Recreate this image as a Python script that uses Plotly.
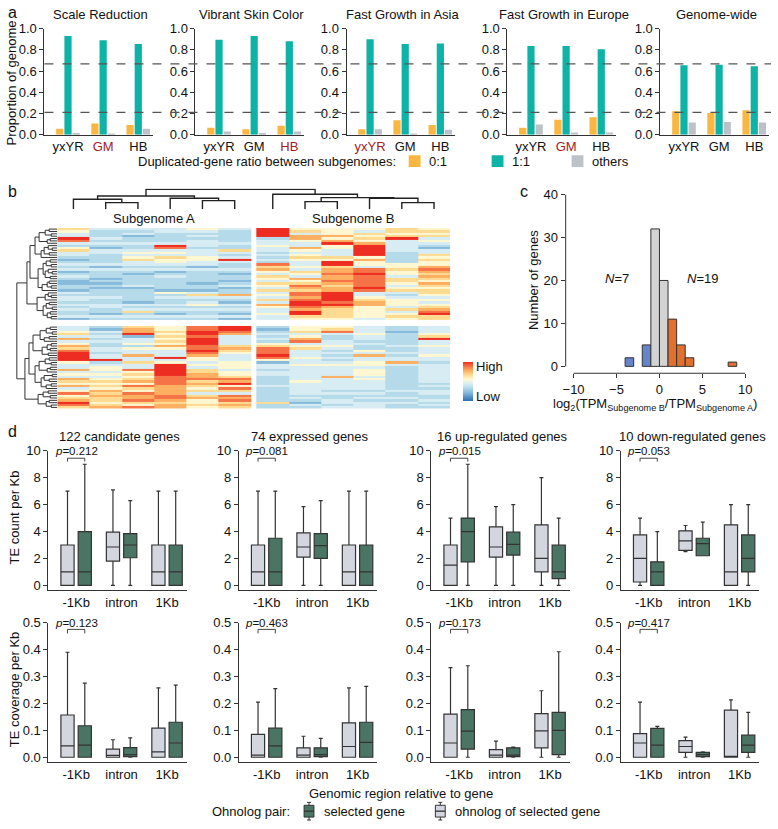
import plotly.graph_objects as go

W, H = 778, 829


def fx(p):
    return p / W


def fy(p):
    return 1 - p / H


FONT = "Arial, Liberation Sans, sans-serif"
INK = "#333333"
RED = "#A31A1F"
C01, C11, COTH = "#F9B640", "#0DB3A6", "#BDC2C9"

# ---------------- panel a: duplicated-gene ratios ----------------
a_titles = ["Scale Reduction", "Vibrant Skin Color", "Fast Growth in Asia",
            "Fast Growth in Europe", "Genome-wide"]
a_groups = ["yxYR", "GM", "HB"]
a_red = ["GM", "HB", "yxYR", "GM", None]
ratio_01 = [[0.055, 0.105, 0.09], [0.065, 0.05, 0.085], [0.05, 0.135, 0.09],
            [0.065, 0.14, 0.165], [0.22, 0.205, 0.23]]
ratio_11 = [[0.93, 0.89, 0.855], [0.895, 0.93, 0.88], [0.90, 0.855, 0.86],
            [0.835, 0.835, 0.805], [0.655, 0.66, 0.645]]
ratio_oth = [[0.015, 0.003, 0.055], [0.03, 0.015, 0.03], [0.05, 0.01, 0.045],
             [0.095, 0.02, 0.02], [0.115, 0.12, 0.115]]
a_refs = [0.667, 0.21]

# ---------------- panel b: expression heatmap (scaled 0 low .. 9 high) ----------------
# columns: 6 samples of subgenome A then 6 of subgenome B
heat_top = [
    [6, 4, 4, 4, 5, 4, 9, 5, 5, 5, 6, 5],
    [5, 3, 3, 4, 4, 3, 9, 6, 5, 4, 6, 6],
    [4, 3, 4, 3, 3, 3, 9, 4, 5, 6, 5, 5],
    [4, 3, 2, 3, 4, 3, 9, 7, 7, 5, 6, 6],
    [9, 4, 3, 3, 3, 3, 3, 7, 5, 6, 9, 4],
    [8, 3, 3, 3, 4, 3, 4, 5, 7, 5, 4, 5],
    [4, 4, 4, 4, 4, 4, 4, 4, 9, 7, 4, 4],
    [3, 3, 3, 9, 4, 3, 5, 4, 5, 9, 4, 3],
    [5, 2, 3, 8, 3, 3, 4, 7, 5, 9, 4, 2],
    [6, 4, 4, 4, 4, 6, 4, 5, 4, 9, 4, 4],
    [4, 4, 5, 5, 4, 4, 3, 4, 4, 9, 3, 4],
    [4, 3, 4, 4, 4, 3, 4, 5, 4, 9, 3, 6],
    [3, 3, 5, 6, 5, 4, 3, 6, 6, 5, 3, 5],
    [2, 3, 6, 5, 5, 9, 4, 5, 5, 7, 3, 6],
    [3, 3, 4, 5, 4, 4, 3, 4, 9, 5, 3, 5],
    [4, 4, 4, 4, 4, 3, 8, 4, 9, 5, 5, 5],
    [3, 2, 3, 3, 2, 3, 6, 5, 6, 4, 5, 7],
    [4, 4, 4, 4, 4, 4, 7, 4, 7, 8, 6, 8],
    [2, 3, 3, 2, 3, 3, 5, 6, 7, 8, 5, 7],
    [3, 3, 2, 3, 3, 2, 4, 5, 8, 9, 5, 6],
    [4, 3, 3, 4, 3, 3, 6, 4, 7, 8, 4, 7],
    [3, 2, 3, 3, 3, 3, 5, 7, 7, 8, 6, 6],
    [2, 3, 3, 3, 3, 2, 4, 5, 8, 8, 6, 5],
    [2, 2, 3, 3, 2, 3, 6, 6, 7, 8, 5, 7],
    [3, 3, 4, 3, 3, 4, 5, 8, 6, 8, 4, 6],
    [3, 2, 2, 3, 3, 2, 4, 7, 7, 9, 5, 5],
    [2, 3, 3, 2, 2, 3, 6, 6, 7, 8, 6, 6],
    [4, 3, 3, 5, 4, 3, 4, 8, 9, 4, 4, 6],
    [3, 3, 3, 3, 6, 7, 5, 8, 9, 4, 3, 5],
    [4, 4, 3, 4, 4, 4, 4, 7, 9, 5, 4, 4],
    [4, 3, 3, 3, 3, 3, 6, 8, 9, 6, 5, 5],
    [3, 3, 2, 3, 4, 2, 4, 9, 8, 7, 5, 4],
    [4, 4, 4, 4, 5, 4, 7, 9, 9, 7, 5, 5],
    [3, 4, 3, 3, 3, 3, 5, 8, 7, 5, 4, 6],
    [4, 3, 4, 4, 4, 4, 4, 7, 6, 5, 6, 7],
    [3, 3, 6, 3, 3, 3, 4, 9, 6, 5, 4, 8],
    [3, 2, 3, 2, 3, 2, 5, 9, 6, 5, 5, 9],
    [4, 4, 4, 4, 4, 4, 4, 6, 6, 5, 6, 6],
    [2, 3, 3, 3, 3, 2, 4, 5, 5, 4, 5, 6],
]
heat_bottom = [
    [4, 3, 6, 5, 8, 9, 3, 5, 5, 4, 3, 4],
    [4, 2, 7, 5, 8, 9, 2, 5, 6, 4, 3, 4],
    [5, 4, 7, 6, 9, 8, 3, 6, 8, 4, 2, 4],
    [6, 3, 9, 5, 9, 7, 4, 4, 4, 5, 3, 5],
    [4, 4, 2, 6, 8, 4, 3, 5, 3, 4, 3, 6],
    [7, 3, 4, 5, 9, 4, 4, 7, 3, 4, 3, 9],
    [4, 4, 4, 6, 9, 4, 3, 8, 4, 3, 3, 4],
    [5, 3, 5, 5, 9, 4, 5, 4, 4, 4, 3, 4],
    [7, 3, 3, 7, 8, 6, 6, 5, 5, 3, 4, 5],
    [6, 4, 5, 5, 8, 7, 8, 6, 4, 3, 3, 4],
    [8, 4, 4, 4, 9, 6, 8, 4, 3, 5, 3, 4],
    [9, 3, 4, 4, 8, 5, 8, 4, 4, 4, 4, 4],
    [9, 4, 7, 4, 7, 4, 9, 4, 3, 7, 3, 5],
    [9, 4, 4, 9, 5, 4, 8, 5, 4, 4, 4, 4],
    [9, 9, 4, 4, 5, 4, 5, 4, 3, 4, 4, 4],
    [5, 3, 6, 5, 4, 5, 2, 4, 4, 5, 7, 3],
    [4, 4, 4, 9, 5, 5, 4, 5, 5, 5, 4, 4],
    [4, 5, 4, 9, 4, 5, 4, 4, 4, 4, 3, 4],
    [7, 5, 8, 9, 6, 4, 3, 4, 4, 5, 3, 4],
    [4, 4, 5, 9, 6, 5, 4, 4, 4, 5, 3, 4],
    [5, 5, 6, 9, 7, 5, 4, 4, 4, 5, 3, 4],
    [4, 4, 5, 8, 7, 6, 3, 4, 7, 4, 3, 4],
    [7, 5, 6, 8, 8, 8, 3, 4, 4, 5, 3, 4],
    [6, 6, 7, 8, 6, 7, 3, 5, 4, 4, 3, 4],
    [5, 5, 5, 8, 7, 9, 3, 4, 4, 4, 3, 3],
    [7, 6, 8, 7, 6, 5, 4, 4, 4, 4, 3, 4],
    [4, 5, 6, 7, 5, 8, 3, 4, 4, 4, 3, 3],
    [5, 7, 5, 7, 6, 6, 3, 4, 3, 3, 4, 4],
    [8, 6, 8, 7, 4, 4, 3, 4, 4, 4, 3, 4],
    [5, 7, 7, 8, 6, 8, 3, 3, 3, 3, 3, 3],
    [6, 6, 7, 8, 7, 7, 3, 4, 3, 4, 4, 3],
    [7, 6, 8, 7, 5, 8, 3, 3, 4, 3, 3, 4],
    [9, 5, 6, 6, 5, 6, 6, 2, 4, 4, 4, 3],
    [8, 6, 5, 7, 6, 7, 3, 4, 3, 4, 3, 4],
    [6, 7, 8, 7, 5, 6, 3, 3, 4, 4, 3, 3],
]
# merge heights between neighbouring leaves (ordered dendrograms)
row_merge_top = [8, 12, 6, 18, 7, 10, 22, 9, 5, 13, 8, 16, 27, 7, 11, 6, 14, 9, 5,
                 12, 7, 19, 8, 10, 6, 15, 30, 9, 6, 12, 20, 8, 11, 5, 14, 7, 10, 6]
row_merge_root = 40
row_merge_bottom = [7, 11, 5, 17, 8, 13, 24, 6, 10, 7, 15, 9, 28, 8, 12, 6, 18,
                    7, 10, 22, 5, 13, 8, 16, 6, 11, 32, 9, 14, 7, 19, 8, 11, 6]
col_merge = [30, 20, 40, 33, 26, 60, 45, 23, 35, 33, 20]

# ---------------- panel c: log2 ratio histogram ----------------
hist_centers = [-3.5, -1.5, -0.5, 0.5, 1.5, 2.5, 3.5, 8.5]
hist_counts = [2, 5, 32, 20, 11, 5, 2, 1]
hist_class = ["down", "down", "none", "none", "up", "up", "up", "up"]
class_colors = {"down": "#6784CA", "none": "#D3D3D3", "up": "#E2702F"}

# ---------------- panel d: TE box plots ----------------
d_titles = ["122 candidate genes", "74 expressed genes",
            "16 up-regulated genes", "10 down-regulated genes"]
regions = ["-1Kb", "intron", "1Kb"]
# [min, q1, median, q3, max] for -1Kb, intron, 1Kb
count_ohno = [
    [[0, 0, 1, 3, 7], [0, 1.8, 2.85, 3.95, 7.1], [0, 0, 1, 3, 7]],
    [[0, 0, 1, 3, 7], [0, 2.1, 2.85, 3.9, 5.85], [0, 0, 1, 3, 7]],
    [[0, 0, 1.5, 3, 5], [0, 2.1, 2.85, 4.35, 5.85], [0, 1, 2, 4.5, 8]],
    [[0, 0.25, 2, 3.75, 5], [2.5, 2.6, 3.3, 4.05, 4.45], [0, 0, 1, 4.5, 6]],
]
count_sel = [
    [[0, 0, 1, 4, 9], [0, 2.05, 3.0, 3.85, 6.3], [0, 0, 1, 3, 7]],
    [[0, 0, 1, 3.5, 7], [0, 2.0, 2.95, 3.85, 6.3], [0, 0, 1, 3, 7]],
    [[0, 1.75, 4, 5, 9], [0, 2.25, 3.05, 3.95, 6], [0, 0.5, 1, 3, 5]],
    [[0, 0, 1, 1.75, 4], [2.2, 2.2, 3.1, 3.5, 4.7], [0, 1, 2, 3.75, 6]],
]
cov_ohno = [
    [[0, 0, 0.042, 0.157, 0.39], [0, 0, 0.007, 0.03, 0.065], [0, 0, 0.02, 0.108, 0.258]],
    [[0, 0, 0.008, 0.085, 0.205], [0, 0, 0.008, 0.035, 0.078], [0, 0, 0.04, 0.128, 0.258]],
    [[0, 0, 0.053, 0.16, 0.333], [0, 0, 0.008, 0.028, 0.06], [0, 0.035, 0.098, 0.162, 0.247]],
    [[0, 0, 0.053, 0.088, 0.205], [0, 0.018, 0.04, 0.062, 0.075], [0, 0, 0.003, 0.175, 0.213]],
]
cov_sel = [
    [[0, 0, 0.045, 0.117, 0.275], [0, 0.002, 0.01, 0.036, 0.072], [0, 0, 0.053, 0.13, 0.268]],
    [[0, 0, 0.042, 0.108, 0.255], [0, 0.002, 0.01, 0.035, 0.07], [0, 0, 0.055, 0.13, 0.263]],
    [[0, 0.03, 0.097, 0.177, 0.34], [0, 0.002, 0.008, 0.035, 0.038], [0, 0.01, 0.1, 0.167, 0.392]],
    [[0, 0, 0.045, 0.107, 0.115], [0, 0.002, 0.01, 0.018, 0.02], [0, 0.018, 0.045, 0.082, 0.167]],
]
count_p = ["0.212", "0.081", "0.015", "0.053"]
cov_p = ["0.123", "0.463", "0.173", "0.417"]
C_OHNO, C_SEL = "#D3D6DE", "#4A7564"

fig = go.Figure()
layout = {}
shapes = []
annots = []


def sfx(n):
    return "" if n == 1 else str(n)


def text(x, y, s, size=13, **kw):
    d = dict(x=fx(x), y=fy(y), xref="paper", yref="paper", text=s, showarrow=False,
             xanchor="center", yanchor="middle", font=dict(size=size, color="#111"))
    d.update(kw)
    annots.append(d)


def axis(**kw):
    d = dict(showgrid=False, zeroline=False, linecolor=INK, linewidth=1, tickcolor=INK,
             ticklen=4, tickfont=dict(size=13, color="#111"))
    d.update(kw)
    return d


# ---- panel a
a_left = [42, 195, 348, 511, 666]
for i in range(5):
    n = i + 1
    s = sfx(n)
    for vals, col in [(ratio_01[i], C01), (ratio_11[i], C11), (ratio_oth[i], COTH)]:
        fig.add_bar(x=[0, 1, 2], y=vals, marker=dict(color=col, line=dict(width=0)),
                    xaxis="x" + s, yaxis="y" + s, showlegend=False, hoverinfo="skip")
    tt = [f"<span style='color:{RED}'>{g}</span>" if g == a_red[i] else g for g in a_groups]
    layout["xaxis" + s] = axis(domain=[fx(a_left[i]), fx(a_left[i] + 110)], range=[-0.67, 2.42],
                               anchor="y" + s, tickvals=[0, 1, 2], ticktext=tt, showline=True, ticks="")
    layout["yaxis" + s] = axis(domain=[fy(130), fy(22)], range=[0, 1], anchor="x" + s,
                               tickvals=[0, 0.2, 0.4, 0.6, 0.8, 1.0], tickformat=".1f",
                               ticks="outside", showline=True)
    text(a_left[i] + 57, 8, a_titles[i])
for r in a_refs:
    shapes.append(dict(type="line", xref="paper", yref="y", x0=fx(42), x1=1, y0=r, y1=r,
                       line=dict(color="#555", width=1.3, dash="dash")))
text(9, 77, "Proportion of genome", textangle=-90)
text(400, 157, "Duplicated-gene ratio between subgenomes:", xanchor="right")
for x0, col, lab in [(411, C01, "0:1"), (495, C11, "1:1"), (576, COTH, "others")]:
    shapes.append(dict(type="rect", xref="paper", yref="paper", x0=fx(x0), x1=fx(x0 + 12),
                       y0=fy(163), y1=fy(151), fillcolor=col, line=dict(width=0)))
    text(x0 + 19, 157, lab, xanchor="left")

# ---- panel b
gap_c, gap_r = 0.18, 2.5
z = [row[:6] + [None] + row[6:] for row in heat_top + [[None] * 12] + heat_bottom]
xedges = list(range(7)) + [6 + gap_c + k for k in range(7)]
ntop, nbot = len(heat_top), len(heat_bottom)
yedges = list(range(ntop + 1)) + [ntop + gap_r + k for k in range(nbot + 1)]
heat_scale = [[0.0, "#2E6DB2"], [0.2, "#7FB5D8"], [0.33, "#B4D9E9"], [0.45, "#DAEEF4"],
              [0.55, "#FFF8D4"], [0.66, "#FEDE94"], [0.78, "#FDAE61"], [0.9, "#F46D43"],
              [1.0, "#EE2D22"]]
fig.add_heatmap(x=xedges, y=yedges, z=z, zmin=0, zmax=9, colorscale=heat_scale,
                xaxis="x6", yaxis="y6", hoverinfo="skip",
                colorbar=dict(x=fx(466), xanchor="left", y=fy(381.5), yanchor="middle",
                              lenmode="pixels", len=39, thickness=10, outlinewidth=0,
                              xpad=0, ypad=0,
                              tickvals=[7.9, 1.1], ticktext=["High", "Low"], ticks="",
                              tickfont=dict(size=13, color="#111")))
xr = [0, xedges[-1]]
yr = [yedges[-1], 0]
layout["xaxis6"] = dict(domain=[fx(55), fx(453)], range=xr, visible=False, anchor="y6")
layout["yaxis6"] = dict(domain=[fy(409), fy(225)], range=yr, visible=False, anchor="x6")


def dendro(pos, gaps):
    a, b = [], []

    def build(lo, hi):
        if lo == hi:
            return pos[lo], 0.0
        k = max(range(lo, hi), key=lambda j: gaps[j])
        p1, h1 = build(lo, k)
        p2, h2 = build(k + 1, hi)
        h = gaps[k]
        a.extend([p1, p1, p2, p2, None])
        b.extend([h1, h, h, h2, None])
        return (p1 + p2) / 2, h

    build(0, len(pos) - 1)
    return a, b


row_pos = [k + 0.5 for k in range(ntop)] + [ntop + gap_r + k + 0.5 for k in range(nbot)]
rp, rh = dendro(row_pos, row_merge_top + [row_merge_root] + row_merge_bottom)
fig.add_scatter(x=rh, y=rp, mode="lines", line=dict(color=INK, width=1), xaxis="x7", yaxis="y7",
                showlegend=False, hoverinfo="skip")
layout["xaxis7"] = dict(domain=[fx(13), fx(55)], range=[row_merge_root + 1, 0], visible=False, anchor="y7")
layout["yaxis7"] = dict(domain=[fy(409), fy(225)], range=yr, visible=False, anchor="x7")

col_pos = [k + 0.5 for k in range(6)] + [6 + gap_c + k + 0.5 for k in range(6)]
cp, ch = dendro(col_pos, col_merge)
fig.add_scatter(x=cp, y=ch, mode="lines", line=dict(color="#222", width=1.4), xaxis="x8", yaxis="y8",
                showlegend=False, hoverinfo="skip")
layout["xaxis8"] = dict(domain=[fx(55), fx(453)], range=xr, visible=False, anchor="y8")
layout["yaxis8"] = dict(domain=[fy(206), fy(185)], range=[0, max(col_merge) + 2], visible=False, anchor="x8")
text(153, 215, "Subgenome A")
text(355, 215, "Subgenome B")

# ---- panel c
fig.add_bar(x=hist_centers, y=hist_counts, width=1, xaxis="x9", yaxis="y9", showlegend=False,
            hoverinfo="skip",
            marker=dict(color=[class_colors[c] for c in hist_class], line=dict(color=INK, width=1)))
layout["xaxis9"] = axis(domain=[fx(570), fx(752)], range=[-10.92, 10], anchor="y9",
                        tickvals=[-10, -5, 0, 5, 10], ticktext=["\u221210", "\u22125", "0", "5", "10"],
                        ticks="outside", showline=False)
layout["yaxis9"] = axis(domain=[fy(373), fy(191)], range=[-1.6, 40], anchor="x9",
                        tickvals=[0, 10, 20, 30, 40], ticks="outside", showline=False)
shapes.append(dict(type="line", xref="x9 domain", yref="y9", x0=0, x1=0, y0=0, y1=40,
                   line=dict(color=INK, width=1)))
shapes.append(dict(type="line", xref="x9", yref="y9 domain", x0=-10, x1=10, y0=0, y1=0,
                   line=dict(color=INK, width=1)))
text(622, 277, "<i>N</i>=7")
text(709, 277, "<i>N</i>=19")
text(538, 278, "Number of genes", textangle=-90)
text(660, 405, "log<sub>2</sub>(TPM<sub>Subgenome B</sub>/TPM<sub>Subgenome A</sub>)")

# ---- panel d
BOXW = 0.29
off = 0.19
d_left = [46, 239, 434, 626]
rows = [(count_ohno, count_sel, count_p, 594, 452, [-0.365, 10], [0, 2, 4, 6, 8, 10], "", 9.45, 9.2),
        (cov_ohno, cov_sel, cov_p, 769, 627, [-0.018, 0.5], [0, 0.1, 0.2, 0.3, 0.4, 0.5], ".1f", 0.475, 0.46)]
n = 10
for r, (ohno, sel, pv, ybot, ytop, yrng, ytv, yfmt, bk, bk0) in enumerate(rows):
    for j in range(4):
        s = str(n)
        for data, col, shift in [(ohno[j], C_OHNO, -off), (sel[j], C_SEL, off)]:
            fig.add_box(x=[k + shift for k in range(3)], lowerfence=[v[0] for v in data],
                        q1=[v[1] for v in data], median=[v[2] for v in data],
                        q3=[v[3] for v in data], upperfence=[v[4] for v in data],
                        fillcolor=col, width=BOXW, line=dict(color=INK, width=1.2),
                        whiskerwidth=0.3, boxpoints=False,
                        xaxis="x" + s, yaxis="y" + s, showlegend=False, hoverinfo="skip")
        fig.add_scatter(x=[-off, -off, off, off], y=[bk0, bk, bk, bk0], mode="lines",
                        line=dict(color="#444", width=1), xaxis="x" + s, yaxis="y" + s,
                        showlegend=False, hoverinfo="skip")
        annots.append(dict(x=0, y=yrng[1], xref="x" + s, yref="y" + s, text=f"<i>p</i>={pv[j]}",
                           showarrow=False, xanchor="center", yanchor="middle",
                           font=dict(size=11.5, color="#111")))
        layout["xaxis" + s] = axis(domain=[fx(d_left[j]), fx(d_left[j] + 140)], range=[-0.61, 2.43],
                                   anchor="y" + s, tickvals=[0, 1, 2], ticktext=regions,
                                   showline=True, ticks="")
        layout["yaxis" + s] = axis(domain=[fy(ybot), fy(ytop)], range=yrng, anchor="x" + s,
                                   tickvals=ytv, tickformat=yfmt, ticks="outside", showline=True)
        if r == 0:
            text(d_left[j] + 72, 437, d_titles[j])
        n += 1
text(12, 520, "TE count per Kb", textangle=-90)
text(12, 695, "TE coverage per Kb", textangle=-90)
text(403, 801, "Genomic region relative to gene")
text(293, 819, "Ohnolog pair:", xanchor="right")
for x0, col, lab in [(305, C_SEL, "selected gene"), (438, C_OHNO, "ohnolog of selected gene")]:
    cx = x0 + 5
    for seg in [(cx, 810, cx, 828), (cx - 2, 810, cx + 2, 810), (cx - 2, 828, cx + 2, 828)]:
        shapes.append(dict(type="line", xref="paper", yref="paper", x0=fx(seg[0]), y0=fy(seg[1]),
                           x1=fx(seg[2]), y1=fy(seg[3]), line=dict(color=INK, width=1)))
    shapes.append(dict(type="rect", xref="paper", yref="paper", x0=fx(x0), x1=fx(x0 + 10),
                       y0=fy(825), y1=fy(813), fillcolor=col, line=dict(color=INK, width=1)))
    shapes.append(dict(type="line", xref="paper", yref="paper", x0=fx(x0), x1=fx(x0 + 10),
                       y0=fy(819), y1=fy(819), line=dict(color=INK, width=1.3)))
    text(x0 + 18, 819, lab, xanchor="left")

# panel letters
text(3, 6, "a", size=16, xanchor="left")
text(3, 188, "b", size=16, xanchor="left")
text(522, 188, "c", size=16, xanchor="left")
text(3, 432, "d", size=16, xanchor="left")

fig.update_layout(width=W, height=H, margin=dict(l=0, r=0, t=0, b=0), autosize=False,
                  plot_bgcolor="white", paper_bgcolor="white",
                  font=dict(family=FONT, size=13, color="#111"),
                  barmode="group", bargap=0.3, bargroupgap=0.12, boxmode="overlay",
                  shapes=shapes, annotations=annots, **layout)
fig.write_html("out.html", config={"displayModeBar": False},
               post_script="document.body.style.margin='0';")
